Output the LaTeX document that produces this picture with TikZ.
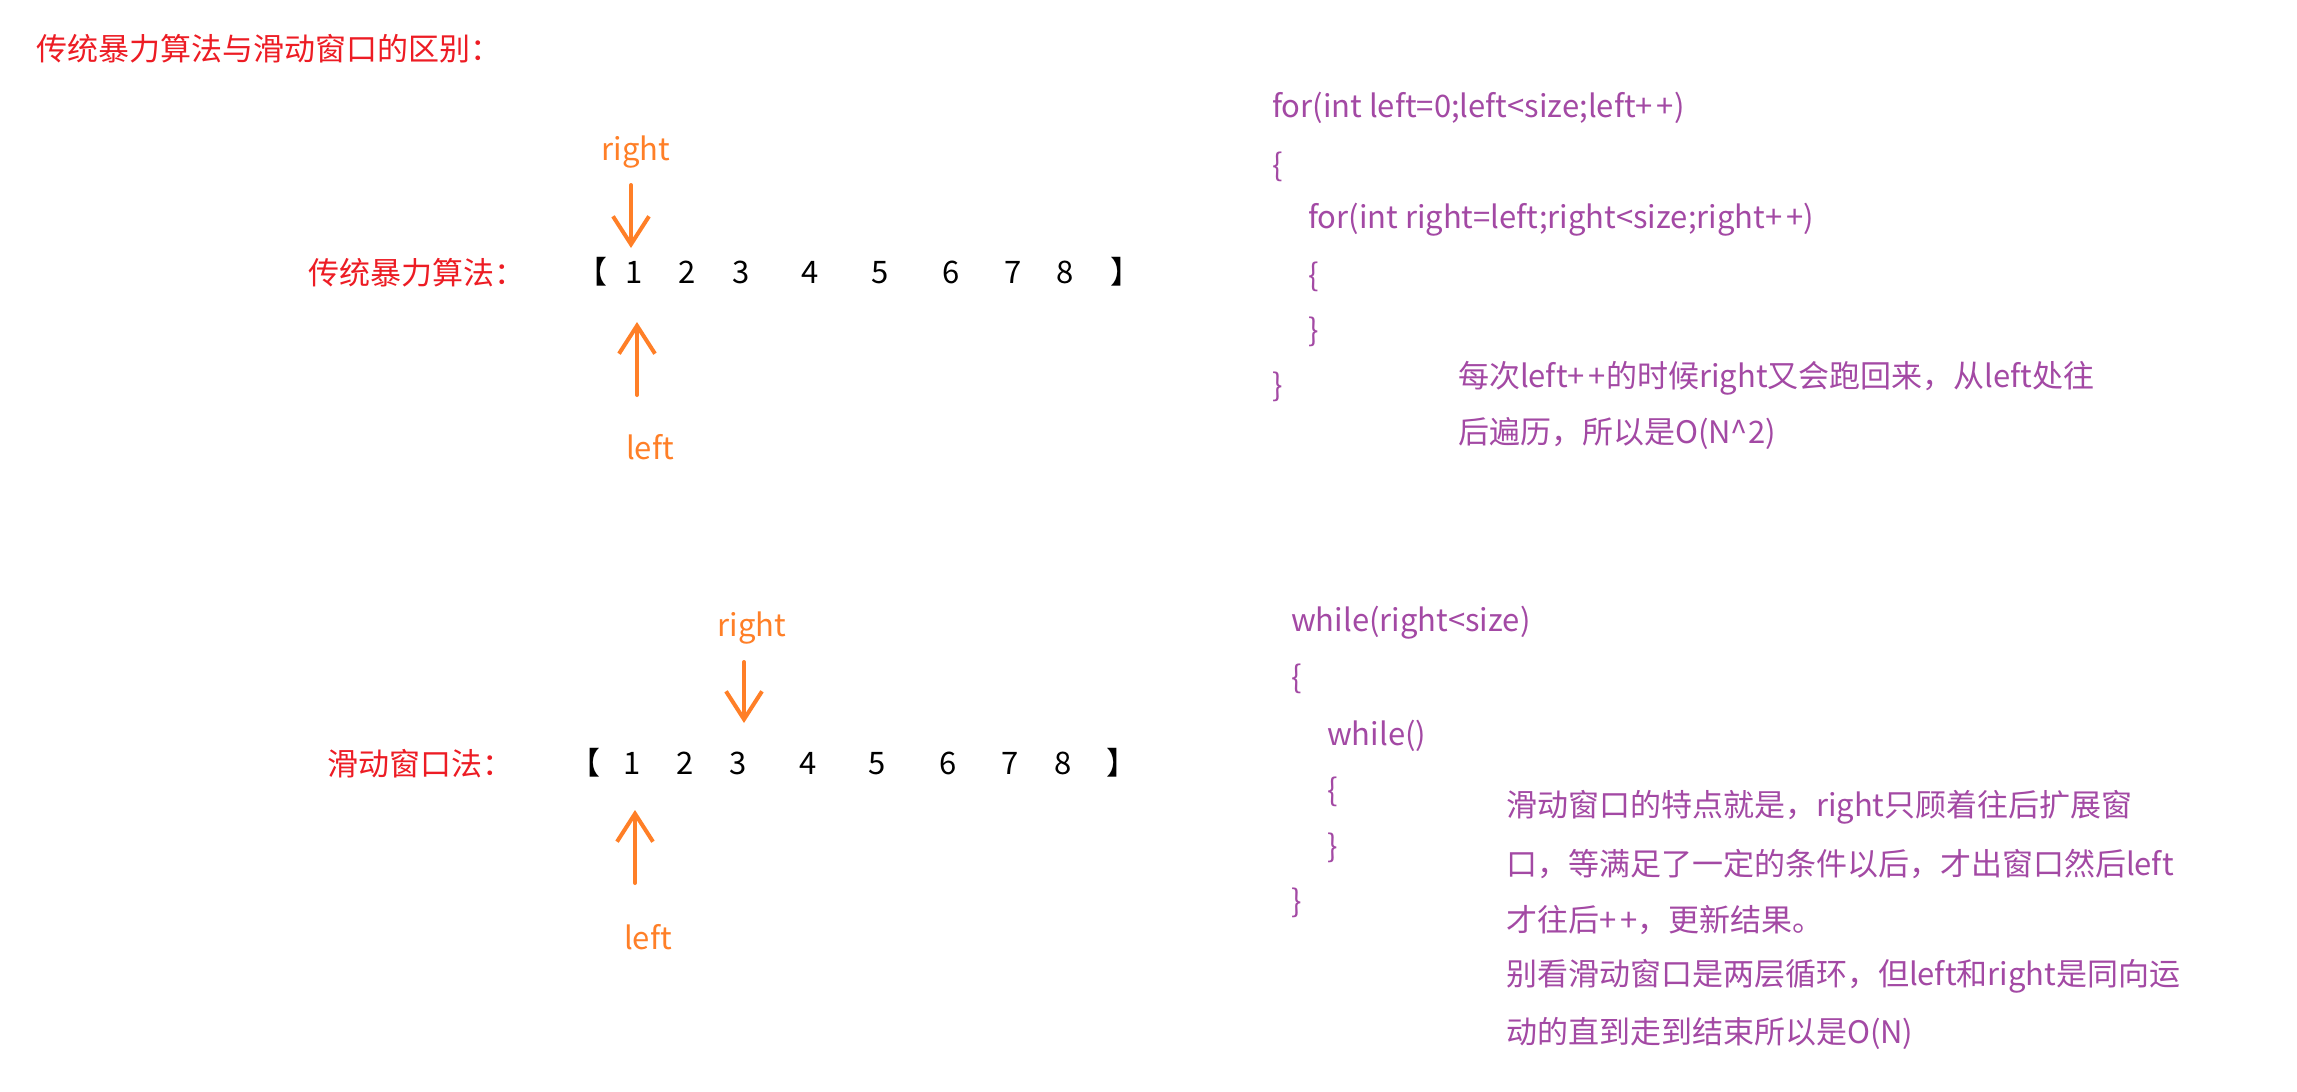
\documentclass[tikz,border=0pt]{standalone}
\usepackage{fontspec}
\setmainfont{Noto Sans CJK SC}
\usetikzlibrary{arrows.meta}
\definecolor{tred}{RGB}{237,28,36}
\definecolor{torange}{RGB}{255,127,39}
\definecolor{tpurple}{RGB}{163,73,164}
\newcommand{\pp}{+\kern4pt+}
\begin{document}
\begin{tikzpicture}[x=1pt,y=-1pt,
  every node/.style={inner sep=0pt, outer sep=0pt, font=\fontsize{31}{37}\selectfont},
  titletext/.style={text=tred, anchor=west},
  ptr/.style={text=torange},
  num/.style={text=black, anchor=base},
  code/.style={text=tpurple, anchor=west},
  arr/.style={draw=torange, line width=4pt, line cap=round,
    -{Straight Barb[length=28pt,width=36pt]}}]
\fill[white] (0,0) rectangle (2297,1092);
\useasboundingbox (0,0) rectangle (2297,1092);

% title
\node[titletext] (title) at (36,49) {传统暴力算法与滑动窗口的区别：};

% ---------- row 1 ----------
\node[titletext] (lab1) at (308,273) {传统暴力算法：};
\node[num] (a0) at (592,283) {【};
\foreach \n/\x in {1/634,2/687,3/741,4/810,5/880,6/951,7/1013,8/1065}
  \node[num] (a\n) at (\x,283) {\n};
\node[num] (a9) at (1126,283) {】};
\node[ptr] (rA) at (636,152) {right};
\node[ptr] (lA) at (650,447) {left};
\coordinate (ta) at (631,185);
\coordinate (tb) at (637,395);
\draw[arr] (ta) -- (ta |- 0,248);
\draw[arr] (tb) -- (tb |- 0,322);

% ---------- row 2 ----------
\node[titletext] (lab2) at (327,764) {滑动窗口法：};
\node[num] (b0) at (585,774) {【};
\foreach \n/\x in {1/632,2/685,3/738,4/808,5/877,6/948,7/1010,8/1063}
  \node[num] (b\n) at (\x,774) {\n};
\node[num] (b9) at (1122,774) {】};
\node[ptr] (rB) at (752,628) {right};
\node[ptr] (lB) at (648,937) {left};
\coordinate (tc) at (744,662);
\coordinate (td) at (635,883);
\draw[arr] (tc) -- (tc |- 0,723);
\draw[arr] (td) -- (td |- 0,810);

% ---------- code 1 ----------
\node[code] (c1) at (1272,108) {for(int left=0;left<size;left\pp)};
\node[code] (c2) at (1272,167) {\{};
\node[code] (c3) at (1308,220) {for(int right=left;right<size;right\pp)};
\node[code] (c4) at (1308,277) {\{};
\node[code] (c5) at (1308,332) {\}};
\node[code] (c6) at (1272,387) {\}};
\node[code] (m1) at (1458,378) {每次left\pp 的时候right又会跑回来，从left处往};
\node[code] (m2) at (1458,433) {后遍历，所以是O(N\^{}2)};

% ---------- code 2 ----------
\node[code] (d1) at (1291,623) {while(right<size)};
\node[code] (d2) at (1291,679) {\{};
\node[code] (d3) at (1327,736) {while()};
\node[code] (d4) at (1327,792) {\{};
\node[code] (d5) at (1327,848) {\}};
\node[code] (d6) at (1291,903) {\}};
\node[code] (k1) at (1506,807) {滑动窗口的特点就是，right只顾着往后扩展窗};
\node[code] (k2) at (1506,864) {口，等满足了一定的条件以后，才出窗口然后left};
\node[code] (k3) at (1506,920) {才往后\pp，更新结果。};
\node[code] (k4) at (1506,976) {别看滑动窗口是两层循环，但left和right是同向运};
\node[code] (k5) at (1506,1033) {动的直到走到结束所以是O(N)};
\end{tikzpicture}
\end{document}
